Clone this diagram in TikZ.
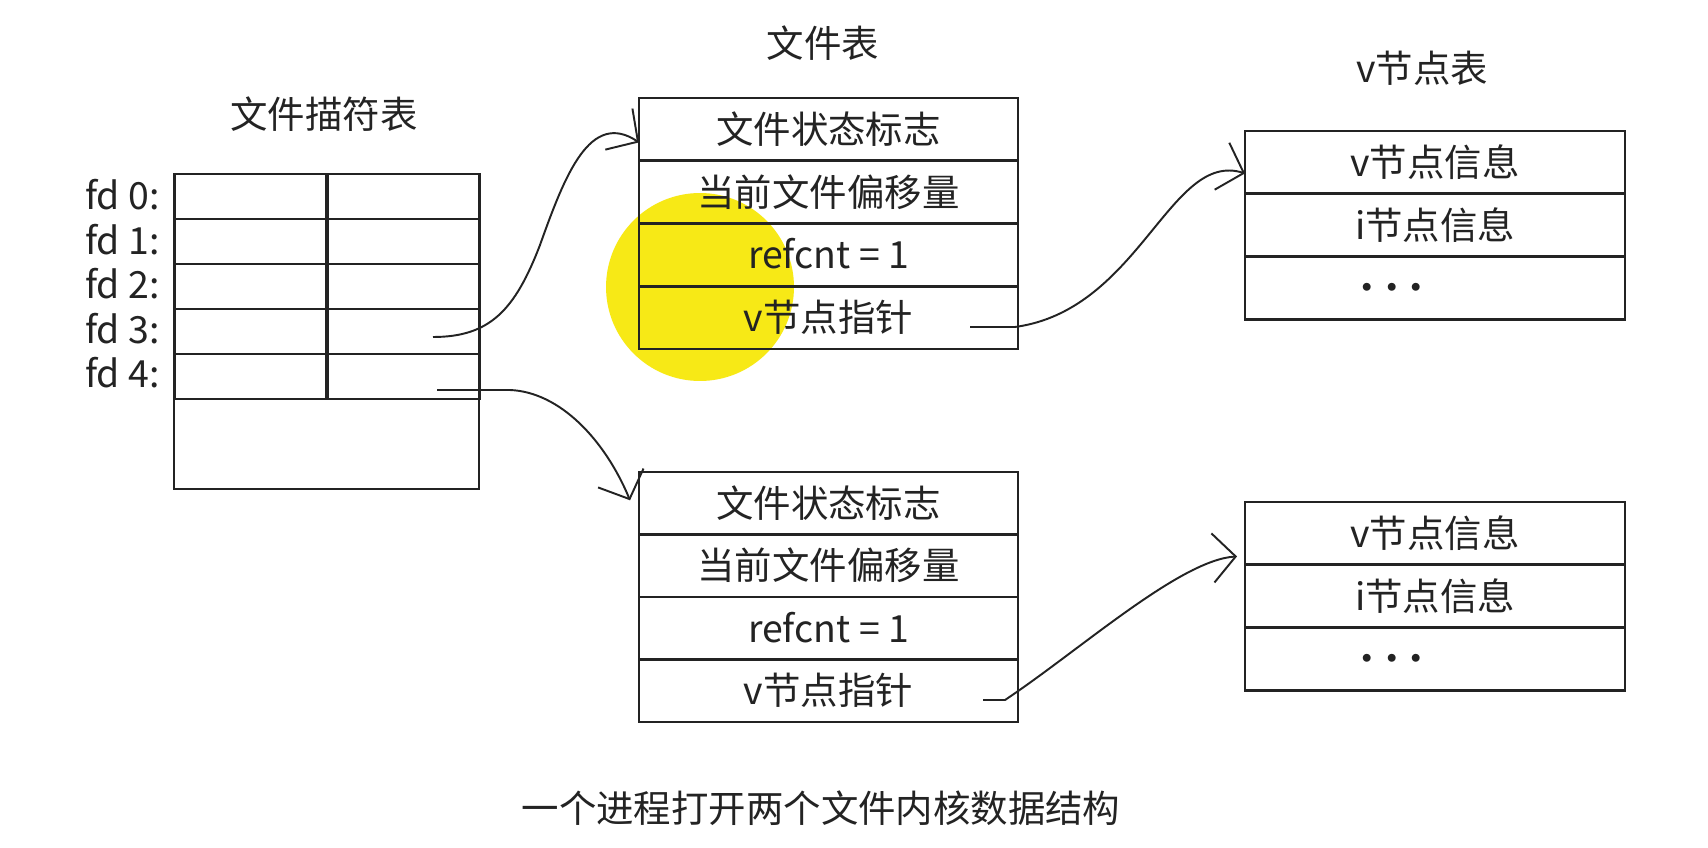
\documentclass[tikz,border=0pt]{standalone}
\usepackage{fontspec}
\newfontfamily\cjk{Noto Sans CJK SC}
\usetikzlibrary{arrows.meta,calc}

\definecolor{inkGray}{RGB}{35,35,35}
\definecolor{cursorYellow}{RGB}{247,233,22}

\newcommand{\bigText}{\cjk\fontsize{21.3pt}{25pt}\selectfont}
\newcommand{\moreDots}{\makebox[0.66em]{·}\makebox[0.66em]{·}\makebox[0.66em]{·}\kern2.3em}

\tikzstyle{tableTitle} = [font = \bigText,
                          text = inkGray
                          ]
\tikzstyle{fdLabel} = [font = \bigText,
                       text = inkGray,
                       anchor = east,
                       inner sep = 0pt
                       ]
\tikzstyle{fdCell} = [draw = inkGray,
                      line width = 1.5pt,
                      minimum width = 3.05cm,
                      minimum height = 0.9cm,
                      inner sep = 0pt,
                      outer sep = 0pt
                      ]
\tikzstyle{fileRow} = [draw = inkGray,
                       line width = 1.5pt,
                       minimum width = 7.58cm,
                       minimum height = 1.255cm,
                       inner sep = 0pt,
                       outer sep = 0pt,
                       text height = 1.6em,
                       text depth = -0.2em,
                       font = \bigText,
                       text = inkGray
                       ]
\tikzstyle{vnodeRow} = [fileRow,
                        minimum width = 7.6cm
                        ]
\tikzstyle{ptrLine} = [draw = inkGray,
                       line width = 1.1pt,
                       -{Straight Barb[length=13pt,width=28pt]}
                       ]

\begin{document}
\begin{tikzpicture}[x = 0.02cm, y = -0.02cm]

    \fill[white] (0, 0) rectangle (1708, 848);
    \useasboundingbox (0, 0) rectangle (1708, 848);

    % cursor highlight
    \fill[cursorYellow] (700, 287) circle [radius = 1.88cm];

    %%% File descriptor table
    \node (fdTitle) at (324, 114) [tableTitle]{文件描符表};

    \node (fdL0) at (250.5, 196.5) [fdCell]{};
    \node (fdR0) at (403.5, 196.5) [fdCell]{};
    \node (fdL1) at (250.5, 241.5) [fdCell]{};
    \node (fdR1) at (403.5, 241.5) [fdCell]{};
    \node (fdL2) at (250.5, 286.5) [fdCell]{};
    \node (fdR2) at (403.5, 286.5) [fdCell]{};
    \node (fdL3) at (250.5, 331.5) [fdCell]{};
    \node (fdR3) at (403.5, 331.5) [fdCell]{};
    \node (fdL4) at (250.5, 376.5) [fdCell]{};
    \node (fdR4) at (403.5, 376.5) [fdCell]{};
    \node (fdRest) at (326.5, 444) [fdCell, minimum width = 6.1cm, minimum height = 1.8cm]{};

        % labels
        \node (fdN0) at (160, 195) [fdLabel]{fd 0:};
        \node (fdN1) at (160, 240) [fdLabel]{fd 1:};
        \node (fdN2) at (160, 284) [fdLabel]{fd 2:};
        \node (fdN3) at (160, 329) [fdLabel]{fd 3:};
        \node (fdN4) at (160, 373) [fdLabel]{fd 4:};

    %%% File table
    \node (fileTitle) at (823, 43) [tableTitle]{文件表};

    % first file
    \node (fileFlagA) at (828.5, 129.4) [fileRow]{文件状态标志};
    \node (fileOffA) at (828.5, 192.1) [fileRow]{当前文件偏移量};
    \node (fileRefA) at (828.5, 254.9) [fileRow]{refcnt = 1};
    \node (filePtrA) at (828.5, 317.6) [fileRow]{v节点指针};

    % second file
    \node (fileFlagB) at (828.5, 503.3) [fileRow]{文件状态标志};
    \node (fileOffB) at (828.5, 565.8) [fileRow]{当前文件偏移量};
    \node (fileRefB) at (828.5, 628.3) [fileRow]{refcnt = 1};
    \node (filePtrB) at (828.5, 690.8) [fileRow]{v节点指针};

    %%% v-node table
    \node (vTitle) at (1422, 68) [tableTitle]{v节点表};

    % first v-node
    \node (vInfoA) at (1435, 162.4) [vnodeRow]{v节点信息};
    \node (iInfoA) at (1435, 225.1) [vnodeRow]{i节点信息};
    \node (vMoreA) at (1435, 287.9) [vnodeRow]{\moreDots};

    % second v-node
    \node (vInfoB) at (1435, 533.4) [vnodeRow]{v节点信息};
    \node (iInfoB) at (1435, 596.1) [vnodeRow]{i节点信息};
    \node (vMoreB) at (1435, 658.9) [vnodeRow]{\moreDots};

    %%% Pointers
    \coordinate (ptr3) at (433, 337);
    \coordinate (ptr4) at (437, 390);
    \coordinate (vPtrA) at (970, 327);
    \coordinate (vPtrB) at (983, 700);

        % fd 3 -> first file
        \draw[ptrLine] (ptr3) .. controls (490, 337) and (515, 310) .. (540, 245)
                              .. controls (565, 175) and (590, 110) .. ($(fileFlagA.west)+(0, 13)$);

        % fd 4 -> second file
        \draw[ptrLine] (ptr4) -- (510, 390)
                              .. controls (560, 392) and (605, 440) .. ($(fileFlagB.west)+(-9, -3)$);

        % files -> v-nodes
        \draw[ptrLine] (vPtrA) -- (1015, 327)
                               .. controls (1140, 310) and (1170, 150) .. ($(vInfoA.west)+(0, 11)$);
        \draw[ptrLine] (vPtrB) -- (1005, 700)
                               .. controls (1080, 650) and (1180, 560) .. ($(vInfoB.west)+(-8, 23)$);

    % caption
    \node (caption) at (821, 808) [tableTitle]{一个进程打开两个文件内核数据结构};

\end{tikzpicture}
\end{document}
